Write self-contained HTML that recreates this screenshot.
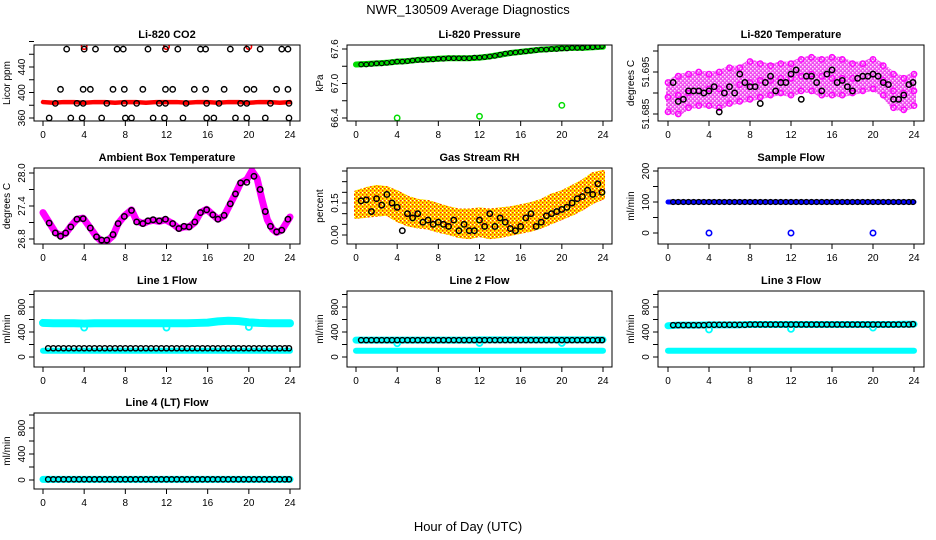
<!DOCTYPE html>
<html><head><meta charset="utf-8"><style>
html,body{margin:0;padding:0;background:#fff}
svg{display:block;font-family:"Liberation Sans",sans-serif}
</style></head><body>
<svg id="root" width="936" height="540" viewBox="0 0 936 540" xmlns="http://www.w3.org/2000/svg">
<defs>
<pattern id="rhpat" width="4" height="4" patternUnits="userSpaceOnUse"><rect width="4" height="4" fill="#ffe800"/><rect width="1.5" height="1.5" fill="#ff3000"/><rect x="2" y="2" width="1.5" height="1.5" fill="#ff3000"/><rect x="2" y="0" width="1" height="1" fill="#fff"/></pattern>
<pattern id="tpat" width="4" height="4" patternUnits="userSpaceOnUse"><rect width="4" height="4" fill="#f050f0"/><rect width="1.5" height="1.5" fill="#ffe0ff"/><rect x="2" y="2" width="1.5" height="1.5" fill="#ffe0ff"/></pattern>
</defs>
<text x="468" y="14" text-anchor="middle" font-size="13">NWR_130509  Average Diagnostics</text>
<text x="468" y="531" text-anchor="middle" font-size="13">Hour of Day (UTC)</text>
</svg>
<script>
// ---- data ----
const hours = [0,1,2,3,4,5,6,7,8,9,10,11,12,13,14,15,16,17,18,19,20,21,22,23,24];
const halfHours = [0.5,1,1.5,2,2.5,3,3.5,4,4.5,5,5.5,6,6.5,7,7.5,8,8.5,9,9.5,10,10.5,11,11.5,12,12.5,13,13.5,14,14.5,15,15.5,16,16.5,17,17.5,18,18.5,19,19.5,20,20.5,21,21.5,22,22.5,23,23.5,23.9];
const outlierHours = [4,12,20];

const co2Red = [385,384,385,385,384,385,385,384,385,385,384,385,385,385,384,385,385,384,385,385,384,385,385,384,385];
const co2RedOut = [472,472,472];
const co2BlackX = [2.3,4.0,5.1,7.2,7.8,10.2,11.9,13.1,15.3,15.8,18.2,19.8,21.1,23.2,23.8,
 1.7,3.9,4.6,6.8,7.9,9.7,11.9,12.6,14.7,15.8,17.6,19.8,20.5,22.7,23.8,
 1.2,3.3,3.9,6.2,7.9,9.1,11.3,11.9,13.9,15.9,17.1,19.2,19.8,22.1,23.9,
 0.6,2.7,3.8,5.7,8.0,8.6,10.7,11.8,13.6,15.9,16.6,18.7,19.8,21.6,23.9];
const co2BlackY = [468,468,468,468,468,468,468,468,468,468,468,468,468,468,468,
 405,405,405,405,405,405,405,405,405,405,405,405,405,405,405,
 383,383,383,383,383,383,383,383,383,383,383,383,383,383,383,
 360,360,360,360,360,360,360,360,360,360,360,360,360,360,360];

const presGreen = [67.33,67.34,67.35,67.36,67.38,67.39,67.41,67.42,67.43,67.44,67.44,67.44,67.45,67.47,67.50,67.53,67.55,67.57,67.59,67.60,67.61,67.62,67.62,67.63,67.64];
const presOut = [66.40,66.43,66.62];
const presBlack = [67.33,67.33,67.34,67.35,67.35,67.36,67.37,67.38,67.38,67.39,67.40,67.41,67.41,67.42,67.42,67.43,67.43,67.44,67.44,67.44,67.44,67.44,67.45,67.45,67.46,67.47,67.48,67.50,67.52,67.53,67.54,67.55,67.56,67.57,67.58,67.59,67.59,67.60,67.60,67.61,67.61,67.62,67.62,67.62,67.63,67.63,67.64,67.65];

const tempMid = [51.689,51.6895,51.690,51.6905,51.691,51.691,51.6915,51.692,51.6925,51.693,51.693,51.6935,51.6935,51.694,51.6945,51.694,51.6935,51.6935,51.6935,51.694,51.6945,51.693,51.6905,51.690,51.6905];
const tempHi = [51.6925,51.694,51.6945,51.695,51.6945,51.695,51.696,51.696,51.6975,51.697,51.6965,51.697,51.697,51.698,51.6985,51.698,51.6985,51.698,51.697,51.697,51.698,51.6965,51.6945,51.6935,51.6945];
const tempLo = [51.6855,51.685,51.6865,51.687,51.687,51.6865,51.6875,51.688,51.6885,51.689,51.6895,51.690,51.6895,51.6905,51.6905,51.6895,51.6895,51.6895,51.690,51.6905,51.691,51.6895,51.6865,51.686,51.687];
const tempBlack = [51.6925,51.688,51.6885,51.6905,51.6905,51.6905,51.690,51.6905,51.6915,51.6855,51.6900,51.6915,51.690,51.6945,51.6925,51.6915,51.6915,51.6875,51.6925,51.694,51.6905,51.6925,51.6925,51.6945,51.6955,51.6885,51.694,51.694,51.6925,51.6905,51.6945,51.6955,51.6925,51.693,51.6915,51.6905,51.6935,51.694,51.694,51.6945,51.694,51.6925,51.692,51.6885,51.6885,51.6895,51.692,51.6925];

const ambX = [0,0.6,1.2,1.7,2.2,2.7,3.3,3.9,4.6,5.2,5.7,6.2,6.8,7.3,7.9,8.6,9.1,9.7,10.2,10.7,11.3,11.9,12.6,13.2,13.7,14.2,14.75,15.3,15.9,16.5,17.0,17.6,18.2,18.7,19.2,19.8,20.3,20.8,21.3,21.8,22.3,22.7,23.2,23.8,24];
const ambMagenta = [27.28,27.1,26.92,26.86,26.9,27.03,27.16,27.18,27.0,26.84,26.76,26.76,26.86,27.08,27.22,27.33,27.13,27.08,27.12,27.14,27.12,27.15,27.08,26.99,27.02,27.02,27.1,27.28,27.34,27.24,27.16,27.22,27.44,27.62,27.82,27.88,28.04,27.9,27.5,27.15,26.98,26.92,26.96,27.14,27.2];
const ambBlackX = [0.6,1.2,1.7,2.2,2.7,3.3,3.9,4.6,5.2,5.7,6.2,6.8,7.3,7.9,8.6,9.1,9.7,10.2,10.7,11.3,11.9,12.6,13.2,13.7,14.2,14.75,15.3,15.9,16.5,17.0,17.6,18.2,18.7,19.2,19.8,20.5,21.1,21.6,22.1,22.7,23.2,23.8];
const ambBlack = [27.09,26.91,26.85,26.91,27.02,27.16,27.17,27.0,26.84,26.78,26.78,26.88,27.08,27.21,27.32,27.11,27.08,27.13,27.15,27.13,27.16,27.08,26.99,27.03,27.02,27.11,27.28,27.33,27.24,27.16,27.23,27.44,27.62,27.82,27.83,27.94,27.7,27.3,27.03,26.93,26.96,27.16];

const rhMid = [0.14,0.155,0.16,0.155,0.13,0.115,0.10,0.095,0.08,0.07,0.055,0.055,0.06,0.055,0.055,0.065,0.075,0.085,0.10,0.12,0.14,0.165,0.19,0.22,0.235];
const rhHi = [0.20,0.215,0.225,0.22,0.20,0.175,0.16,0.155,0.14,0.125,0.115,0.115,0.12,0.115,0.12,0.125,0.135,0.145,0.16,0.185,0.20,0.225,0.25,0.285,0.295];
const rhLo = [0.085,0.09,0.095,0.10,0.07,0.05,0.04,0.035,0.02,0.01,-0.005,-0.01,0.0,-0.01,-0.005,0.005,0.015,0.025,0.04,0.06,0.08,0.10,0.125,0.155,0.175];
const rhBlack = [0.16,0.165,0.11,0.17,0.14,0.19,0.15,0.13,0.02,0.10,0.08,0.10,0.06,0.07,0.05,0.06,0.05,0.04,0.07,0.02,0.05,0.02,0.02,0.07,0.04,0.10,0.04,0.08,0.06,0.03,0.02,0.04,0.08,0.10,0.04,0.06,0.09,0.10,0.11,0.12,0.13,0.15,0.17,0.18,0.21,0.19,0.24,0.20];

const sampBlue = [100,100,100,100,100,100,100,100,100,100,100,100,100,100,100,100,100,100,100,100,100,100,100,100,100];
const sampOut = [0,0,0];
const sampBlack = [100,100,100,100,100,100,100,100,100,100,100,100,100,100,100,100,100,100,100,100,100,100,100,100,100,100,100,100,100,100,100,100,100,100,100,100,100,100,100,100,100,100,100,100,100,100,100,100];

const l1High = [545,540,540,540,535,540,540,540,540,540,540,540,540,540,540,545,550,570,580,575,555,545,540,540,540];
const l1Low = [100,100,100,100,100,100,100,100,100,100,100,100,100,100,100,100,100,100,100,100,100,100,100,100,100];
const l1Out = [470,470,480];
const l1Black = [140,140,140,140,140,140,140,140,140,140,140,140,140,140,140,140,140,140,140,140,140,140,140,140,140,140,140,140,140,140,140,140,140,140,140,140,140,140,140,140,140,140,140,140,140,140,140,140];

const l2High = [270,270,270,270,270,270,270,270,270,270,270,270,275,275,275,275,275,275,275,275,275,275,275,275,275];
const l2Low = [100,100,100,100,100,100,100,100,100,100,100,100,100,100,100,100,100,100,100,100,100,100,100,100,100];
const l2Out = [220,225,225];
const l2Black = [270,270,270,270,270,270,270,270,270,270,270,270,270,270,270,270,270,270,270,270,270,270,270,270,270,270,270,270,270,270,270,270,270,270,270,270,270,270,270,270,270,270,270,270,270,270,270,270];

const l3High = [500,510,510,510,515,515,515,515,520,520,520,520,520,520,520,520,520,520,520,520,520,520,520,525,525];
const l3Low = [100,100,100,100,100,100,100,100,100,100,100,100,100,100,100,100,100,100,100,100,100,100,100,100,100];
const l3Out = [440,450,470];
const l3Black = [510,510,510,510,510,510,510,515,515,515,515,515,515,515,515,520,520,520,520,520,520,520,520,520,520,520,520,520,520,520,520,520,520,520,520,520,520,520,520,520,520,520,520,520,520,520,520,525];

const l4Cyan = [10,10,10,10,10,10,10,10,10,10,10,10,10,10,10,10,10,10,10,10,10,10,10,10,10];
const l4Black = [10,10,10,10,10,10,10,10,10,10,10,10,10,10,10,10,10,10,10,10,10,10,10,10,10,10,10,10,10,10,10,10,10,10,10,10,10,10,10,10,10,10,10,10,10,10,10,10];

const xTicks = [0,4,8,12,16,20,24];

// ---- drawing ----
const NS = "http://www.w3.org/2000/svg";
const root = document.getElementById('root');
function mk(tag, attrs, parent){
  const e = document.createElementNS(NS, tag);
  for (const k in attrs) e.setAttribute(k, attrs[k]);
  (parent||root).appendChild(e);
  return e;
}
const cols = [{L:34,R:300,x0:43,x24:290},{L:347,R:612,x0:356,x24:603},{L:658,R:924,x0:668,x24:914}];
const rows = [45,168,291,413];
const BH = 76;
let clipN = 0;

function panel(name, title, col, row, ref, yTicks, yLabels, ytitle, draw){
  const c = cols[col], top = rows[row], bot = top + BH;
  const g = mk('g', {});
  
  
  const sx = h => c.x0 + h / 24 * (c.x24 - c.x0);
  const sy = v => ref[1] + (v - ref[0]) / (ref[2] - ref[0]) * (ref[3] - ref[1]);
  const t = mk('text', {x:(c.L + c.R) / 2, y:top - 7, 'text-anchor':'middle', 'font-size':11, 'font-weight':'bold'}, g);
  t.textContent = title;
  
  
  const cid = 'clip' + (clipN++);
  const cp = mk('clipPath', {id:cid}, g);
  mk('rect', {x:c.L, y:top, width:c.R - c.L, height:BH}, cp);
  const plot = mk('g', {'clip-path':'url(#' + cid + ')'}, g);
  
  
  draw(plot, sx, sy);
  const box = mk('rect', {x:c.L, y:top, width:c.R - c.L, height:BH, fill:'none', stroke:'#000', 'stroke-width':1}, g);
  
  
  const xa = mk('g', {}, g);
  
  
  mk('line', {x1:sx(0), x2:sx(24), y1:bot, y2:bot, stroke:'#000'}, xa);
  xTicks.forEach(h => {
    mk('line', {x1:sx(h), x2:sx(h), y1:bot, y2:bot + 5, stroke:'#000'}, xa);
    const tl = mk('text', {x:sx(h), y:bot + 17, 'text-anchor':'middle', 'font-size':10}, xa);
    tl.textContent = h;
  });
  const ya = mk('g', {}, g);
  
  
  yTicks.forEach(v => {
    const y = sy(v);
    if (y < top - 4 || y > bot + 4) return;
    mk('line', {x1:c.L - 5, x2:c.L, y1:y, y2:y, stroke:'#000'}, ya);
  });
  yLabels.forEach(s => {
    const y = sy(parseFloat(s));
    const tl = mk('text', {x:c.L - 9, y:y, 'text-anchor':'middle', 'font-size':10, transform:'rotate(-90 ' + (c.L - 9) + ' ' + y + ')'}, ya);
    tl.textContent = s;
  });
  const yt = mk('text', {x:c.L - 24, y:(top + bot) / 2, 'text-anchor':'middle', 'font-size':10, transform:'rotate(-90 ' + (c.L - 24) + ' ' + ((top + bot) / 2) + ')'}, g);
  yt.textContent = ytitle;
  
  
}

function pts(parent, xs, ys, sx, sy, color, r, sw, label){
  const g = mk('g', {}, parent);
  
  
  xs.forEach((x, i) => {
    const c = mk('circle', {cx:sx(x), cy:sy(ys[i]), r:r || 2.7, fill:'none', stroke:color, 'stroke-width':sw || 1.4}, g);
    
    
  });
}
function band(parent, xs, ys, sx, sy, color, w, label){
  const p = mk('polyline', {points:xs.map((x, i) => sx(x) + ',' + sy(ys[i])).join(' '), fill:'none', stroke:color, 'stroke-width':w, 'stroke-linejoin':'round', 'stroke-linecap':'round'}, parent);
  
  
}
function area(parent, xs, hi, lo, sx, sy, fill, label){
  const up = xs.map((x, i) => sx(x) + ',' + sy(hi[i]));
  const dn = xs.map((x, i) => sx(x) + ',' + sy(lo[i])).reverse();
  const p = mk('polygon', {points:up.concat(dn).join(' '), fill:fill, stroke:fill, 'stroke-width':4, 'stroke-linejoin':'round'}, parent);
  
  
}

panel('co2', 'Li-820 CO2', 0, 0, [360,118,440,67], [360,380,400,420,440,460,480], ['360','400','440'], 'Licor ppm', (g, sx, sy) => {
  band(g, hours, co2Red, sx, sy, '#ff0000', 4.5, 'co2-red-series');
  pts(g, outlierHours, co2RedOut, sx, sy, '#ff0000', 2.7, 1.6, 'co2-red-outliers');
  pts(g, co2BlackX, co2BlackY, sx, sy, '#000', 2.7, 1.4, 'co2-black-series');
});
panel('pressure', 'Li-820 Pressure', 1, 0, [66.4,118,67.6,49], [66.4,66.7,67.0,67.3,67.6], ['66.4','67.0','67.6'], 'kPa', (g, sx, sy) => {
  band(g, hours, presGreen, sx, sy, '#00dd00', 6, 'pressure-green-series');
  pts(g, outlierHours, presOut, sx, sy, '#00dd00', 2.7, 1.5, 'pressure-green-outliers');
  pts(g, halfHours, presBlack, sx, sy, '#000', 2.3, 1.1, 'pressure-black-series');
});
panel('li820-temp', 'Li-820 Temperature', 2, 0, [51.685,114,51.695,72], [51.685,51.690,51.695,51.700], ['51.685','51.695'], 'degrees C', (g, sx, sy) => {
  area(g, hours, tempHi, tempLo, sx, sy, 'url(#tpat)', 'li820-temp-magenta-cloud');
  pts(g, hours, tempHi, sx, sy, '#ff00ff', 2.7, 1.4, 'li820-temp-magenta-upper');
  pts(g, hours, tempLo, sx, sy, '#ff00ff', 2.7, 1.4, 'li820-temp-magenta-lower');
  pts(g, hours, tempMid, sx, sy, '#ff00ff', 2.7, 1.4, 'li820-temp-magenta-mid');
  pts(g, halfHours, tempBlack, sx, sy, '#000', 2.7, 1.5, 'li820-temp-black-series');
});
panel('ambient-temp', 'Ambient Box Temperature', 0, 1, [26.8,239,28.0,173], [26.8,27.1,27.4,27.7,28.0], ['26.8','27.4','28.0'], 'degrees C', (g, sx, sy) => {
  band(g, ambX, ambMagenta, sx, sy, '#ff00ff', 7, 'ambient-magenta-series');
  pts(g, ambBlackX, ambBlack, sx, sy, '#000', 2.7, 1.5, 'ambient-black-series');
});
panel('gas-rh', 'Gas Stream RH', 1, 1, [0,235,0.15,203], [0,0.05,0.10,0.15,0.20,0.25,0.30], ['0.00','0.15'], 'percent', (g, sx, sy) => {
  area(g, hours, rhHi, rhLo, sx, sy, 'url(#rhpat)', 'rh-orange-cloud');
  pts(g, halfHours, rhBlack, sx, sy, '#000', 2.7, 1.5, 'rh-black-series');
});
panel('sample-flow', 'Sample Flow', 2, 1, [0,233,200,171], [0,50,100,150,200], ['0','100','200'], 'ml/min', (g, sx, sy) => {
  band(g, hours, sampBlue, sx, sy, '#0000ff', 5, 'sample-flow-blue-series');
  pts(g, outlierHours, sampOut, sx, sy, '#0000ff', 2.7, 1.6, 'sample-flow-outliers');
  pts(g, halfHours, sampBlack, sx, sy, '#000', 2.5, 1.2, 'sample-flow-black-series');
});
const fT = [0,200,400,600,800,1000], fL = ['0','400','800'];
panel('line1-flow', 'Line 1 Flow', 0, 2, [0,357,800,307], fT, fL, 'ml/min', (g, sx, sy) => {
  band(g, hours, l1High, sx, sy, '#00ffff', 8, 'line1-cyan-high');
  band(g, hours, l1Low, sx, sy, '#00ffff', 6, 'line1-cyan-low');
  pts(g, outlierHours, l1Out, sx, sy, '#00ffff', 3, 1.8, 'line1-cyan-outliers');
  pts(g, halfHours, l1Black, sx, sy, '#000', 2.6, 1.4, 'line1-black-series');
});
panel('line2-flow', 'Line 2 Flow', 1, 2, [0,357,800,307], fT, fL, 'ml/min', (g, sx, sy) => {
  band(g, hours, l2High, sx, sy, '#00ffff', 7, 'line2-cyan-high');
  band(g, hours, l2Low, sx, sy, '#00ffff', 6, 'line2-cyan-low');
  pts(g, outlierHours, l2Out, sx, sy, '#00ffff', 3, 1.8, 'line2-cyan-outliers');
  pts(g, halfHours, l2Black, sx, sy, '#000', 2.6, 1.4, 'line2-black-series');
});
panel('line3-flow', 'Line 3 Flow', 2, 2, [0,357,800,307], fT, fL, 'ml/min', (g, sx, sy) => {
  band(g, hours, l3High, sx, sy, '#00ffff', 7, 'line3-cyan-high');
  band(g, hours, l3Low, sx, sy, '#00ffff', 6, 'line3-cyan-low');
  pts(g, outlierHours, l3Out, sx, sy, '#00ffff', 3, 1.8, 'line3-cyan-outliers');
  pts(g, halfHours, l3Black, sx, sy, '#000', 2.6, 1.4, 'line3-black-series');
});
panel('line4-flow', 'Line 4 (LT) Flow', 0, 3, [0,480,800,428], fT, fL, 'ml/min', (g, sx, sy) => {
  band(g, hours, l4Cyan, sx, sy, '#00ffff', 7, 'line4-cyan-series');
  pts(g, halfHours, l4Black, sx, sy, '#000', 2.6, 1.4, 'line4-black-series');
});
</script>
</body></html>
